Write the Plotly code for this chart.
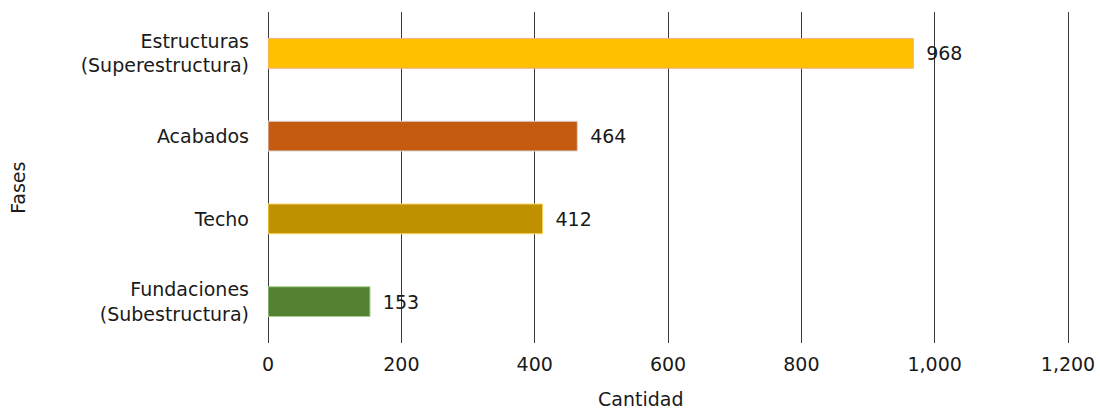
import plotly.graph_objects as go

categories = ["Fundaciones<br>(Subestructura)", "Techo", "Acabados", "Estructuras<br>(Superestructura)"]
values = [153, 412, 464, 968]
colors = ["#548235", "#BF9000", "#C55A11", "#FFC000"]
outline = ["#A9D18E", "#FFD966", "#D9D9D9", "#F4B183"]
x_ticks = [0, 200, 400, 600, 800, 1000, 1200]
x_ticktext = ["0", "200", "400", "600", "800", "1,000", "1,200"]

FONT = "DejaVu Sans, Liberation Sans, Arial"
FS = 19

fig = go.Figure(go.Bar(
    y=categories, x=values, orientation="h",
    marker=dict(color=colors, line=dict(color=outline, width=1)),
    width=0.36,
    text=[str(v) for v in values],
    texttemplate="\u00a0\u2009%{text}",
    textposition="outside",
    textfont=dict(size=FS, color="#1a1a1a", family=FONT),
    cliponaxis=False,
))

fig.update_layout(
    width=1100, height=409,
    margin=dict(l=268, r=30, t=11.5, b=65.5),
    plot_bgcolor="white", paper_bgcolor="white",
    font=dict(family=FONT, size=FS, color="#1a1a1a"),
    showlegend=False,
    annotations=[
        dict(text="Cantidad", xref="paper", yref="paper", x=0.465, y=-0.170,
             showarrow=False, xanchor="center", yanchor="middle",
             font=dict(size=FS, family=FONT, color="#1a1a1a")),
        dict(text="Fases", xref="paper", yref="paper", x=-0.312, y=0.468,
             showarrow=False, xanchor="center", yanchor="middle", textangle=-90,
             font=dict(size=FS, family=FONT, color="#1a1a1a")),
    ],
)
fig.update_xaxes(
    range=[0, 1203], tickvals=x_ticks, ticktext=x_ticktext,
    showgrid=True, gridcolor="#3a3a3a", gridwidth=1,
    zeroline=True, zerolinecolor="#3a3a3a", zerolinewidth=1,
    showline=False, ticks="", ticklabelstandoff=8, automargin=False,
)
fig.update_yaxes(
    categoryorder="array", categoryarray=categories,
    showgrid=False, showline=False, ticks="", ticklabelstandoff=18,
    automargin=False,
)

fig.write_html("out.html", config={"displayModeBar": False},
               post_script="document.body.style.margin='0';")
